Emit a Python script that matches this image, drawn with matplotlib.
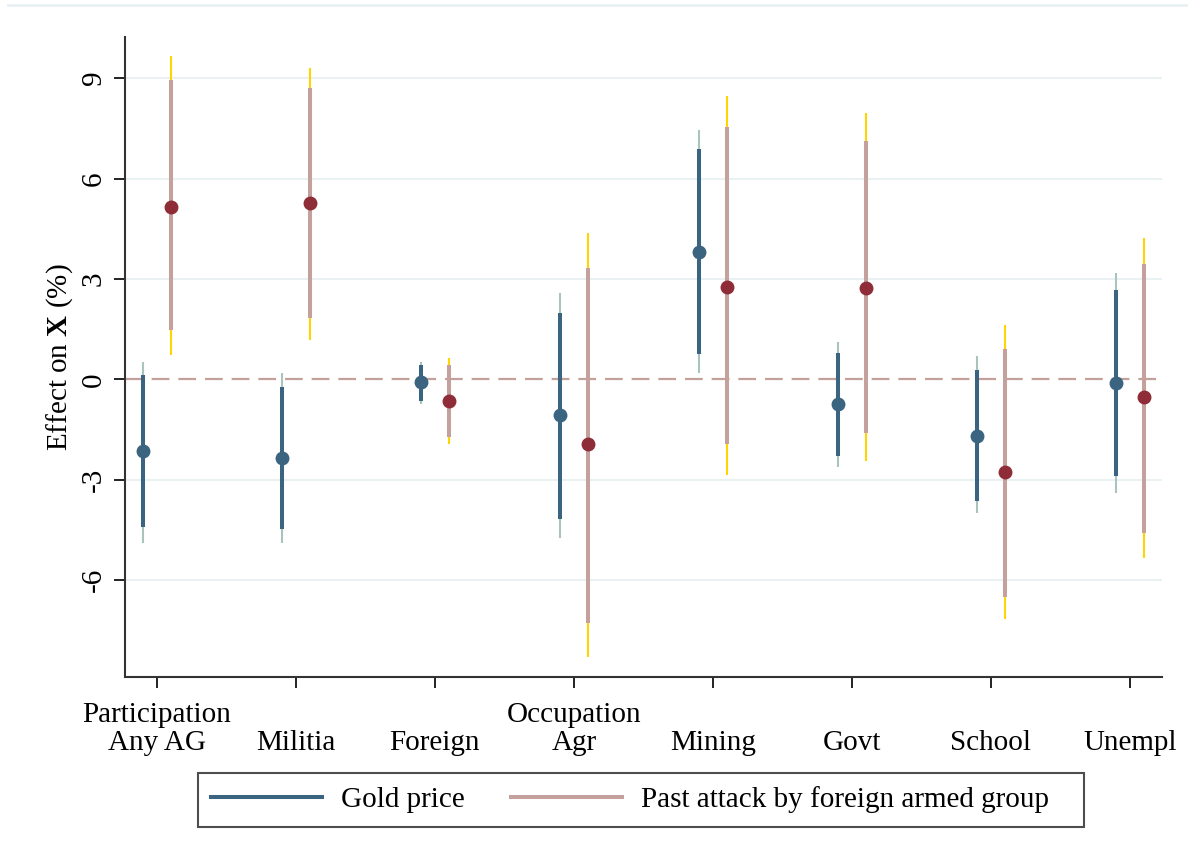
import numpy as np
import matplotlib.pyplot as plt
from matplotlib.lines import Line2D

plt.rcParams['font.family'] = ['Liberation Serif', 'DejaVu Serif']
plt.rcParams['mathtext.fontset'] = 'custom'
plt.rcParams['mathtext.rm'] = 'Liberation Serif'
plt.rcParams['mathtext.bf'] = 'Liberation Serif:bold'
plt.rcParams['axes.unicode_minus'] = False

labels = ["Participation\nAny AG", "\nMilitia", "\nForeign", "Occupation\nAgr",
          "\nMining", "\nGovt", "\nSchool", "\nUnempl"]

# gold price: point estimate, 90% and 95% intervals
gold_est = [-2.15, -2.36, -0.09, -1.08, 3.79, -0.75, -1.70, -0.12]
gold_lo90 = [-4.42, -4.48, -0.66, -4.18, 0.75, -2.30, -3.64, -2.90]
gold_hi90 = [0.12, -0.24, 0.42, 1.97, 6.87, 0.78, 0.27, 2.66]
gold_lo95 = [-4.90, -4.90, -0.75, -4.75, 0.18, -2.63, -4.00, -3.41]
gold_hi95 = [0.51, 0.18, 0.51, 2.57, 7.44, 1.11, 0.69, 3.17]

# past attack by foreign armed group
past_est = [5.14, 5.26, -0.66, -1.94, 2.75, 2.72, -2.78, -0.54]
past_lo90 = [1.46, 1.82, -1.73, -7.29, -1.94, -1.61, -6.51, -4.60]
past_hi90 = [8.93, 8.69, 0.42, 3.32, 7.53, 7.11, 0.90, 3.44]
past_lo95 = [0.72, 1.17, -1.94, -8.31, -2.87, -2.45, -7.17, -5.35]
past_hi95 = [9.66, 9.29, 0.63, 4.36, 8.46, 7.95, 1.61, 4.21]

fig = plt.figure(figsize=(11.88, 8.67), dpi=100)
ax = fig.add_axes([0.105, 0.219, 0.873, 0.738])

x = np.arange(1, len(labels) + 1)
xg = x - 0.1
xp = x + 0.1

blue = '#3b6480'
blue_light = '#a9c4bf'
rose = '#c4a19d'
gold = '#ffd400'
red = '#8e2c37'

for v in [9, 6, 3, -3, -6]:
    ax.axhline(v, color='#eaf1f3', lw=1.5, zorder=0)
ax.axhline(0, color='#c4a09a', lw=1.6, dashes=(8, 4), zorder=1)

ax.vlines(xg, gold_lo95, gold_hi95, color=blue_light, lw=1.5, zorder=2)
ax.vlines(xg, gold_lo90, gold_hi90, color=blue, lw=2.9, zorder=3)
ax.plot(xg, gold_est, 'o', color=blue, ms=9, zorder=4)

ax.vlines(xp, past_lo95, past_hi95, color=gold, lw=1.5, zorder=2)
ax.vlines(xp, past_lo90, past_hi90, color=rose, lw=2.9, zorder=3)
ax.plot(xp, past_est, 'o', color=red, ms=9, zorder=4)

ax.set_xlim(0.77, 8.23)
ax.set_ylim(-8.9, 10.22)
ax.set_yticks([-6, -3, 0, 3, 6, 9])
ax.set_xticks(x)
ax.set_xticklabels(labels, fontsize=21, linespacing=1.1)
ax.tick_params(axis='y', labelsize=21, rotation=90, length=8, width=1.4,
               pad=5, color='#222222')
ax.tick_params(axis='x', length=8, width=1.4, pad=10, color='#222222')
for lab in ax.get_yticklabels():
    lab.set_va('center')

for s in ['top', 'right']:
    ax.spines[s].set_visible(False)
for s in ['left', 'bottom']:
    ax.spines[s].set_linewidth(1.5)
    ax.spines[s].set_color('#333333')

ax.set_ylabel(r'Effect on $\mathbf{X}$ (%)', fontsize=21, labelpad=4)

# thin band along the top of the graph region
fig.add_artist(Line2D([8 / 1188, 1], [1 - 5 / 867, 1 - 5 / 867],
                      color='#e9f0f3', lw=2, transform=fig.transFigure))

handles = [Line2D([], [], color=blue, lw=2.9), Line2D([], [], color=rose, lw=2.9)]
leg = fig.legend(handles, ['Gold price', 'Past attack by foreign armed group   '],
                 loc='center left', bbox_to_anchor=(198 / 1188, 0.0773), ncol=2,
                 fontsize=21, frameon=True, fancybox=False, handlelength=3.8,
                 handletextpad=0.65, columnspacing=1.6, borderpad=0.45,
                 borderaxespad=0)
leg.get_frame().set_edgecolor('#222222')
leg.get_frame().set_linewidth(1.5)

fig.savefig('out.png', dpi=100)
